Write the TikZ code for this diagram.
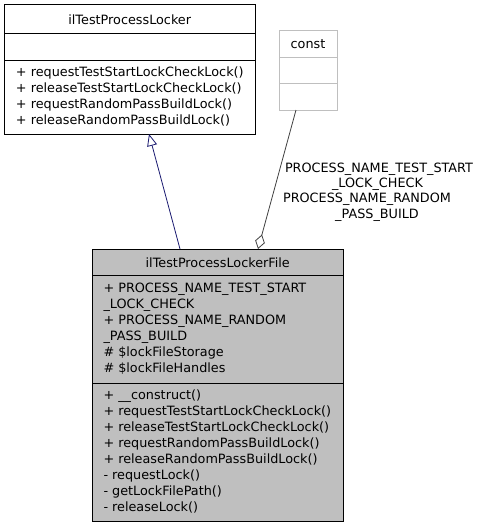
\documentclass[tikz,border=0pt]{standalone}
\usepackage{fontspec}
\setmainfont{DejaVu Sans}
\usetikzlibrary{arrows.meta,calc}
\definecolor{edgeblue}{HTML}{191970}
\definecolor{edgegrey}{HTML}{404040}
\definecolor{boxgrey}{HTML}{BFBFBF}
\definecolor{lightborder}{HTML}{BFBFBF}
\begin{document}
\begin{tikzpicture}[x=1pt,y=-1pt,
  every node/.style={font=\fontsize{12.8}{16}\selectfont, inner sep=0pt, outer sep=0pt},
  classbox/.style={draw=black, line width=0.9pt, fill=white, rectangle},
  activebox/.style={draw=black, line width=0.9pt, fill=boxgrey, rectangle},
  constbox/.style={draw=lightborder, line width=0.9pt, fill=white, rectangle},
  member/.style={anchor=base west},
  title/.style={anchor=base},
  elabel/.style={anchor=base},
  divider/.style={line width=0.9pt},
  inherit/.style={draw=edgeblue, line width=0.8pt, -{Triangle[length=12pt,width=10pt,fill=white]}},
  aggr/.style={draw=edgegrey, line width=0.8pt, -{Diamond[length=15pt,width=10pt,fill=white]}}]
\useasboundingbox (0,0) rectangle (480,528);

% base class
\node[classbox, minimum width=250.5pt, minimum height=129.5pt] (base) at (129.75,69.25) {};
\draw[divider] (base.west |- 0,33.3) -- (base.east |- 0,33.3);
\draw[divider] (base.west |- 0,60.7) -- (base.east |- 0,60.7);
\node[title] (basetitle) at (129.75,24.5) {ilTestProcessLocker};
\node[member] (bm1) at (16,76) {+ requestTestStartLockCheckLock()};
\node[member] (bm2) at (16,92) {+ releaseTestStartLockCheckLock()};
\node[member] (bm3) at (16,108) {+ requestRandomPassBuildLock()};
\node[member] (bm4) at (16,124) {+ releaseRandomPassBuildLock()};

% const
\node[constbox, minimum width=58pt, minimum height=80pt] (const) at (308,70) {};
\draw[divider, draw=lightborder] (const.west |- 0,57) -- (const.east |- 0,57);
\draw[divider, draw=lightborder] (const.west |- 0,83) -- (const.east |- 0,83);
\node[title] (consttitle) at (308,48) {const};

% derived class
\node[activebox, minimum width=250.5pt, minimum height=272pt] (file) at (217.75,385) {};
\draw[divider] (file.west |- 0,275) -- (file.east |- 0,275);
\draw[divider] (file.west |- 0,383) -- (file.east |- 0,383);
\node[title] (filetitle) at (217.75,267.5) {ilTestProcessLockerFile};
\node[member] (fa1) at (103.5,292.5) {+ PROCESS\_NAME\_TEST\_START};
\node[member] (fa2) at (103.5,308.5) {\_LOCK\_CHECK};
\node[member] (fa3) at (103.5,324.5) {+ PROCESS\_NAME\_RANDOM};
\node[member] (fa4) at (103.5,340.5) {\_PASS\_BUILD};
\node[member] (fa5) at (103.5,356.5) {\# \$lockFileStorage};
\node[member] (fa6) at (103.5,372.5) {\# \$lockFileHandles};
\node[member] (fm1) at (103.5,399.5) {+ \_\_construct()};
\node[member] (fm2) at (103.5,415.5) {+ requestTestStartLockCheckLock()};
\node[member] (fm3) at (103.5,431.5) {+ releaseTestStartLockCheckLock()};
\node[member] (fm4) at (103.5,447.5) {+ requestRandomPassBuildLock()};
\node[member] (fm5) at (103.5,463.5) {+ releaseRandomPassBuildLock()};
\node[member] (fm6) at (103.5,479.5) {- requestLock()};
\node[member] (fm7) at (103.5,495.5) {- getLockFilePath()};
\node[member] (fm8) at (103.5,511.5) {- releaseLock()};

% connectors
\draw[inherit] ($(file.north west)+(87.5,0)$) -- ($(base.south west)+(144.5,0)$);
\draw[aggr] ($(const.south west)+(17,0)$) -- ($(file.north west)+(165.5,0)$);

% edge label
\node[elabel] (l1) at (379,172.5) {PROCESS\_NAME\_TEST\_START};
\node[elabel] (l2) at (377.5,187.5) {\_LOCK\_CHECK};
\node[elabel] (l3) at (367,202.5) {PROCESS\_NAME\_RANDOM};
\node[elabel] (l4) at (377,218.5) {\_PASS\_BUILD};
\end{tikzpicture}
\end{document}
